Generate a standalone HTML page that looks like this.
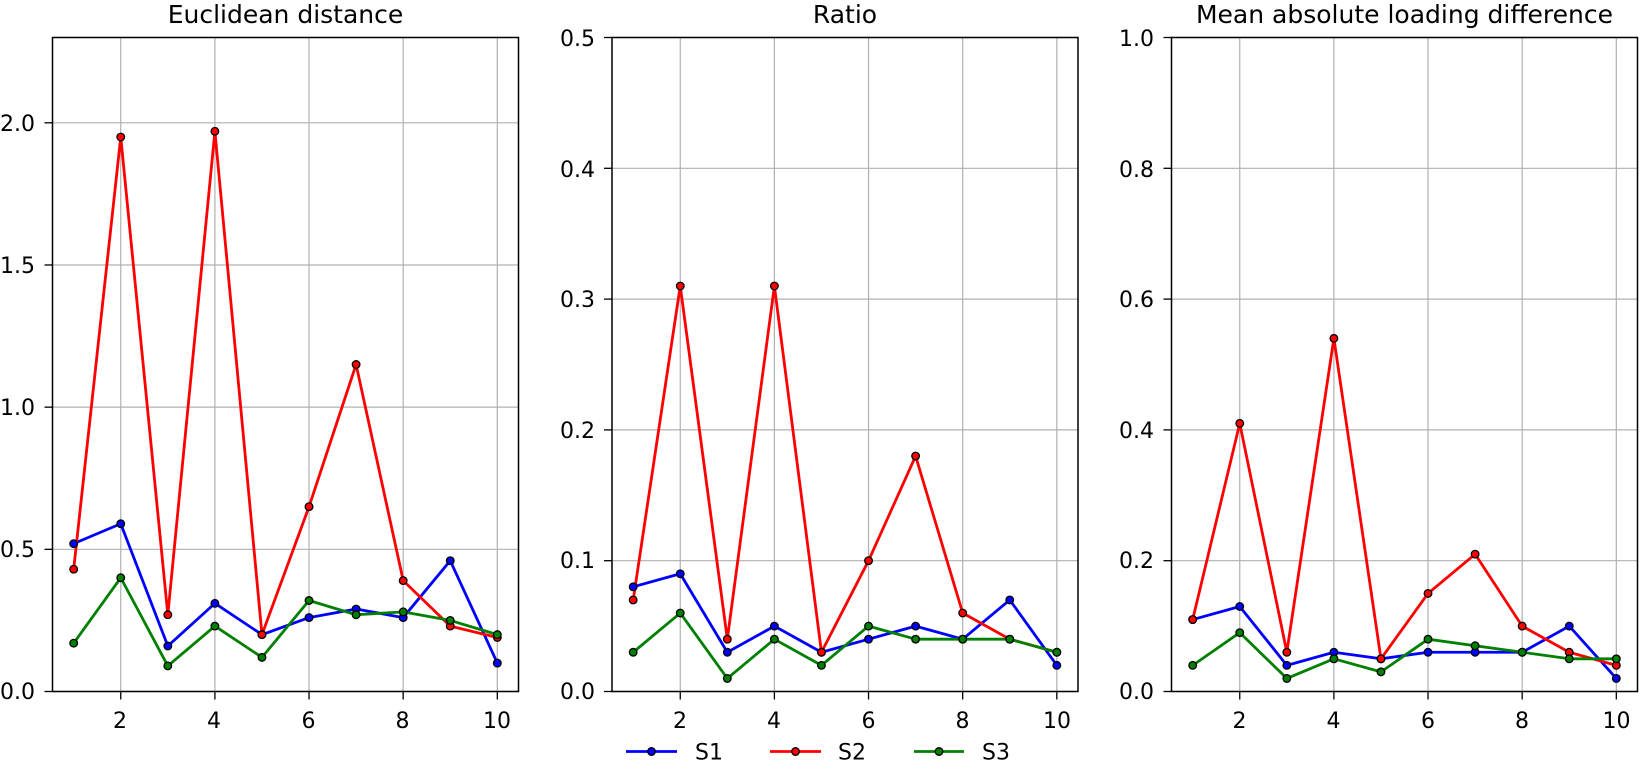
<!DOCTYPE html>
<html><head><meta charset="utf-8"><style>
html,body{margin:0;padding:0;background:#fff;}
svg{display:block;font-family:"DejaVu Sans","Liberation Sans",sans-serif;}
</style></head><body>
<svg id="s" width="1642" height="761" viewBox="0 0 1642 761" xmlns="http://www.w3.org/2000/svg">
<g id="g"></g>
<g font-size="25" text-anchor="middle" fill="#000">
<text x="285.5" y="23">Euclidean distance</text>
<text x="845" y="23">Ratio</text>
<text x="1404.5" y="23">Mean absolute loading difference</text>
</g>
<g font-size="22" text-anchor="end" fill="#000">
<text x="35" y="699">0.0</text><text x="35" y="557">0.5</text><text x="35" y="415">1.0</text><text x="35" y="273">1.5</text><text x="35" y="131">2.0</text>
<text x="595" y="699">0.0</text><text x="595" y="568">0.1</text><text x="595" y="438">0.2</text><text x="595" y="307">0.3</text><text x="595" y="177">0.4</text><text x="595" y="46">0.5</text>
<text x="1154" y="699">0.0</text><text x="1154" y="568">0.2</text><text x="1154" y="438">0.4</text><text x="1154" y="307">0.6</text><text x="1154" y="177">0.8</text><text x="1154" y="46">1.0</text>
</g>
<g font-size="22" text-anchor="middle" fill="#000">
<text x="120" y="728">2</text><text x="214" y="728">4</text><text x="308.5" y="728">6</text><text x="402.5" y="728">8</text><text x="497" y="728">10</text>
<text x="680" y="728">2</text><text x="774" y="728">4</text><text x="868.5" y="728">6</text><text x="962.5" y="728">8</text><text x="1057" y="728">10</text>
<text x="1239.5" y="728">2</text><text x="1333.5" y="728">4</text><text x="1428" y="728">6</text><text x="1522" y="728">8</text><text x="1616.5" y="728">10</text>
</g>
<g font-size="22" fill="#000">
<line x1="626" y1="751.5" x2="677" y2="751.5" stroke="#0000ff" stroke-width="2.8"/><circle cx="651.5" cy="751.5" r="3.8" fill="#0000ff" stroke="#000" stroke-width="1.3"/><text x="695" y="759.5">S1</text>
<line x1="770" y1="751.5" x2="821" y2="751.5" stroke="#ff0000" stroke-width="2.8"/><circle cx="795.5" cy="751.5" r="3.8" fill="#ff0000" stroke="#000" stroke-width="1.3"/><text x="838" y="759.5">S2</text>
<line x1="914" y1="751.5" x2="964" y2="751.5" stroke="#008000" stroke-width="2.8"/><circle cx="939" cy="751.5" r="3.8" fill="#008000" stroke="#000" stroke-width="1.3"/><text x="982" y="759.5">S3</text>
</g>
</svg>
<script>
var NS="http://www.w3.org/2000/svg",g=document.getElementById("g");
function el(t,a){var e=document.createElementNS(NS,t);for(var k in a)e.setAttribute(k,a[k]);g.appendChild(e);return e;}
var T=37.5,B=691.5,W=466,H=654;
var panels=[
{L:52.5,ymax:2.3,yt:[0,0.5,1,1.5,2],d:[
[.52,.59,.16,.31,.20,.26,.29,.26,.46,.10],
[.43,1.95,.27,1.97,.20,.65,1.15,.39,.23,.19],
[.17,.40,.09,.23,.12,.32,.27,.28,.25,.20]]},
{L:612,ymax:0.5,yt:[0,.1,.2,.3,.4,.5],d:[
[.08,.09,.03,.05,.03,.04,.05,.04,.07,.02],
[.07,.31,.04,.31,.03,.10,.18,.06,.04,.03],
[.03,.06,.01,.04,.02,.05,.04,.04,.04,.03]]},
{L:1171.5,ymax:1.0,yt:[0,.2,.4,.6,.8,1],d:[
[.11,.13,.04,.06,.05,.06,.06,.06,.10,.02],
[.11,.41,.06,.54,.05,.15,.21,.10,.06,.04],
[.04,.09,.02,.05,.03,.08,.07,.06,.05,.05]]}];
var cols=["#0000ff","#ff0000","#008000"];
panels.forEach(function(p){
 var X=function(v){return p.L+(v-0.55)/9.9*W;},Y=function(v){return B-v/p.ymax*H;};
 [2,4,6,8,10].forEach(function(v){var x=X(v);
  el("line",{x1:x,y1:T,x2:x,y2:B,stroke:"#b0b0b0","stroke-width":1.2});
  el("line",{x1:x,y1:B,x2:x,y2:B+8,stroke:"#000","stroke-width":1.3});});
 p.yt.forEach(function(v){var y=Y(v);
  el("line",{x1:p.L,y1:y,x2:p.L+W,y2:y,stroke:"#b0b0b0","stroke-width":1.2});
  el("line",{x1:p.L-8,y1:y,x2:p.L,y2:y,stroke:"#000","stroke-width":1.3});});
 p.d.forEach(function(s,i){
  el("polyline",{points:s.map(function(v,j){return X(j+1)+","+Y(v);}).join(" "),fill:"none",stroke:cols[i],"stroke-width":2.8,"stroke-linejoin":"round"});});
 p.d.forEach(function(s,i){
  s.forEach(function(v,j){el("circle",{cx:X(j+1),cy:Y(v),r:3.8,fill:cols[i],stroke:"#000","stroke-width":1.3});});});
 el("rect",{x:p.L,y:T,width:W,height:H,fill:"none",stroke:"#000","stroke-width":1.5});
});
</script>
</body></html>
